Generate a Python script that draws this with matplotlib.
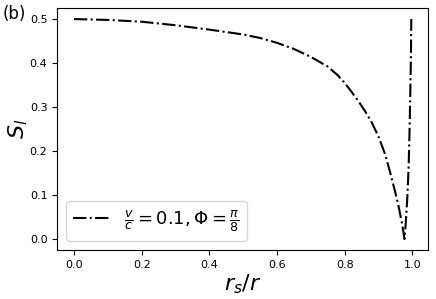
import matplotlib
matplotlib.use("Agg")
import matplotlib.pyplot as plt

x_vals = [0.0, 0.1, 0.2, 0.3, 0.4, 0.5, 0.55, 0.6, 0.65, 0.7, 0.75, 0.78,
          0.8, 0.82, 0.84, 0.86, 0.88, 0.9, 0.92, 0.935, 0.95, 0.96, 0.97,
          0.977, 0.981, 0.985, 0.989, 0.992, 0.994, 0.996, 0.997]
s_vals = [0.5, 0.498, 0.494, 0.486, 0.476, 0.465, 0.457, 0.446, 0.432, 0.414,
          0.392, 0.372, 0.355, 0.335, 0.314, 0.291, 0.265, 0.233, 0.192,
          0.150, 0.105, 0.072, 0.033, 0.0, 0.04, 0.09, 0.16, 0.25, 0.33,
          0.42, 0.5]
legend_label = r"$\frac{v}{c} = 0.1, \Phi = \frac{\pi}{8}$"

fig = plt.figure(figsize=(4.36, 2.99), dpi=100)
ax = fig.add_axes([0.131, 0.164, 0.851, 0.809])
ax.plot(x_vals, s_vals, linestyle='-.', color='black', linewidth=1.5, label=legend_label)
ax.set_xlabel(r"$r_s/r$", fontsize=16, labelpad=2)
ax.set_ylabel(r"$S_l$", fontsize=16, labelpad=0)
ax.tick_params(labelsize=8)
ax.set_xticks([0.0, 0.2, 0.4, 0.6, 0.8, 1.0])
ax.set_yticks([0.0, 0.1, 0.2, 0.3, 0.4, 0.5])
ax.legend(loc='lower left', fontsize=13, handlelength=2.0)
fig.text(0.005, 0.935, "(b)", fontsize=12)
fig.savefig("out.png", dpi=100)
